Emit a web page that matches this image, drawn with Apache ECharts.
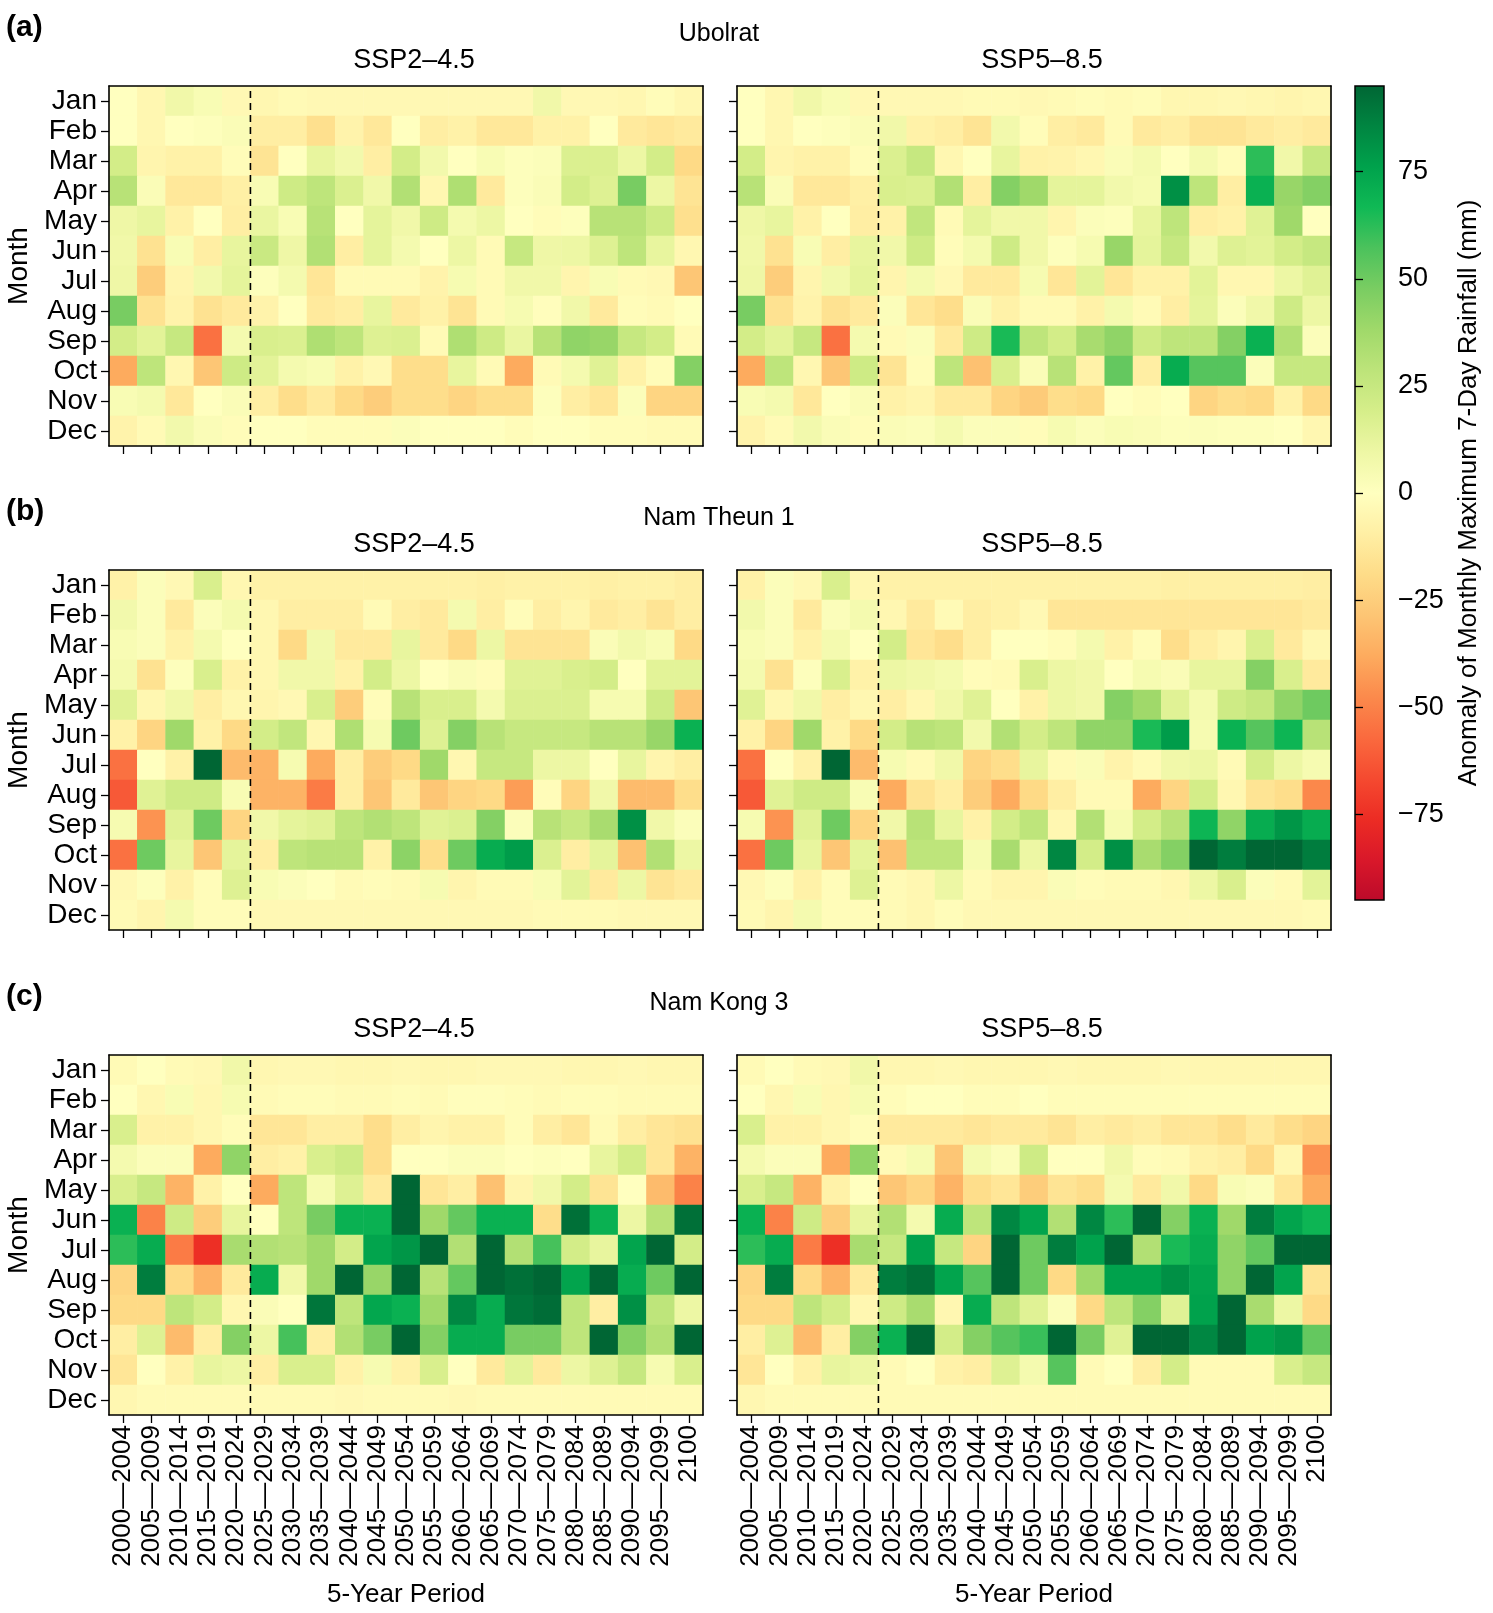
<!DOCTYPE html>
<html>
<head>
<meta charset="utf-8">
<title>Monthly maximum 7-day rainfall anomaly</title>
<script src="https://cdn.jsdelivr.net/npm/echarts@6/dist/echarts.min.js"></script>
<style>
  html, body { margin: 0; padding: 0; background: #fff; }
  #main { width: 1493px; height: 1613px; }
</style>
</head>
<body>
<div id="main"></div>
<script>
// ---- data (mm) ----
const months = ['Jan', 'Feb', 'Mar', 'Apr', 'May', 'Jun', 'Jul', 'Aug', 'Sep', 'Oct', 'Nov', 'Dec'];
const periods = ['2000—2004', '2005—2009', '2010—2014', '2015—2019', '2020—2024', '2025—2029', '2030—2034',
  '2035—2039', '2040—2044', '2045—2049', '2050—2054', '2055—2059', '2060—2064', '2065—2069', '2070—2074',
  '2075—2079', '2080—2084', '2085—2089', '2090—2094', '2095—2099', '2100'];
const scenarios = ['SSP2–4.5', 'SSP5–8.5'];
const sites = ['Ubolrat', 'Nam Theun 1', 'Nam Kong 3'];
const panelTags = ['(a)', '(b)', '(c)'];
const colorTicks = [-75, -50, -25, 0, 25, 50, 75];
const colorMin = -95, colorMax = 95;

// historical periods 2000-2024 (same in both scenarios), one row per month
const ubolratHist = [
  [0, -5, 8, 4, -4], [0, -5, 0, 1, 3], [20, -6, -8, -8, -2], [30, 3, -13, -13, -9],
  [9, 12, -8, 0, -10], [8, -16, 4, -10, 12], [9, -25, -6, 7, 13], [48, -16, -7, -16, -12],
  [20, 14, 25, -55, 6], [-38, 28, -5, -28, 22], [4, 6, -13, 0, 3], [-7, -3, 7, 3, -2]
];
const ubolratSsp245 = [
  [-5, -3, -4, -4, -4, -4, -4, -4, -4, -4, 8, -4, -4, -5, -2, -5],
  [-10, -10, -17, -7, -13, 0, -10, -8, -13, -13, -8, -8, 0, -12, -14, -12],
  [-15, 0, 12, 7, -10, 20, 7, 0, 4, 1, 2, 17, 17, 10, 20, -20],
  [4, 22, 28, 17, 8, 32, -5, 33, -12, 1, 3, 20, 16, 48, 10, -15],
  [11, 4, 30, 0, 13, 8, 22, 6, 10, 0, -2, 1, 30, 30, 22, -17],
  [24, 9, 32, -10, 13, 6, 0, 10, -3, 25, 9, 10, 16, 28, 12, -5],
  [1, 6, -14, -3, -3, -3, -7, 5, -3, 8, 8, -6, 4, -3, -4, -28],
  [-7, 0, -12, -10, 12, -12, -8, -15, -3, 5, -1, 8, -12, -2, -3, 0],
  [18, 17, 33, 28, 16, 17, -3, 33, 22, 11, 30, 42, 40, 25, 20, -3],
  [14, 6, 4, -8, -4, -18, -18, 12, -3, -38, -3, 6, 15, -8, -2, 45],
  [-10, -18, -12, -20, -25, -18, -18, -22, -18, -18, 1, -10, -14, 2, -22, -22],
  [0, 0, -2, -2, -2, 2, 0, 0, 0, -2, 0, 0, -2, -2, -3, -3]
];
const ubolratSsp585 = [
  [-4, -4, -4, -3, -3, -4, -3, -2, -3, -2, -5, -5, -4, -5, -6, -5],
  [8, -8, -10, -15, 7, -2, -10, -12, -3, -12, -10, -15, -15, -12, -10, -12],
  [17, 25, -5, 0, 12, -8, -7, -5, 3, 6, 0, 6, -2, 62, 8, 25],
  [18, 17, 32, -10, 45, 38, 13, 13, 7, 5, 82, 28, -10, 70, 40, 45],
  [-8, 27, -3, 13, 8, 8, -6, 2, 1, 12, 28, -10, -8, 15, 38, 0],
  [8, 22, -2, 6, 22, 8, 1, 5, 40, 13, 25, 7, 16, 14, 20, 25],
  [-6, 6, -4, -12, -12, 5, -14, 14, -14, -8, -8, 14, -5, -5, 10, 15],
  [2, -14, -18, 3, -8, -3, -3, -8, 6, -3, -10, 13, 2, 8, 22, 10],
  [-3, 2, -12, 22, 65, 28, 20, 35, 42, 22, 28, 28, 45, 70, 32, 2],
  [-15, -2, 28, -30, 18, 3, 30, -8, 52, -10, 72, 55, 55, 2, 25, 25],
  [-8, -6, -12, -12, -22, -26, -18, -20, 0, -2, 0, -22, -18, -20, -8, -20],
  [3, 2, 6, 2, 2, -2, 5, 2, 4, 3, 1, 2, 1, 1, 0, -5]
];

const namTheunHist = [
  [-8, 2, -4, 18, -5], [7, 2, -12, 2, 6], [4, 2, -8, 6, 0], [6, -16, 1, 18, -8],
  [15, -5, 8, -10, -5], [-8, -22, 38, -8, -20], [-55, 0, -8, 95, -32], [-62, 15, 22, 22, 4],
  [5, -45, 15, 50, -22], [-55, 50, 12, -28, 13], [-4, 1, -8, -2, 16], [-3, -6, 6, -2, -2]
];
const namTheunSsp245 = [
  [-8, -8, -8, -8, -8, -8, -8, -8, -9, -8, -8, -8, -9, -8, -8, -10],
  [-5, -10, -10, -10, -3, -10, -12, 6, -10, -2, -10, -6, -12, -10, -15, -10],
  [-5, -20, 7, -12, -12, 12, -12, -20, 10, -15, -15, -15, 3, 7, 4, -20],
  [-5, 8, 8, -8, 20, 10, 0, 3, -2, 15, 15, 18, 20, 0, 14, 14],
  [-6, -4, 18, -25, -2, 30, 18, 18, 6, 17, 17, 17, 5, 5, 22, -28],
  [20, 27, -5, 33, 5, 50, 16, 45, 30, 25, 25, 25, 30, 30, 40, 70],
  [-35, 5, -38, -10, -25, -20, 38, -5, 25, 25, 10, 10, 0, 12, -6, -10],
  [-35, -35, -52, -10, -28, -12, -28, -22, -20, -42, -2, -22, 8, -32, -32, -18],
  [8, 13, 15, 28, 32, 28, 15, 17, 45, 2, 30, 25, 35, 82, 8, 2],
  [-10, 28, 30, 30, -8, 43, -18, 50, 72, 78, 17, -10, 13, -30, 32, 10],
  [4, 2, 0, -3, -2, -3, 5, -6, -3, -3, 4, 14, -12, 10, -15, -12],
  [-4, -4, -4, -4, -4, -4, -4, -4, -4, -4, -3, -3, -3, -4, -4, -4]
];
const namTheunSsp585 = [
  [-8, -8, -8, -8, -8, -8, -8, -8, -8, -8, -9, -9, -9, -9, -9, -10],
  [-5, -12, -3, -10, -8, -4, -14, -14, -14, -14, -14, -14, -14, -14, -14, -12],
  [20, -14, -18, -10, 0, 0, -2, 6, -8, -2, -18, -10, -6, 18, -12, -5],
  [10, 8, 6, -2, -3, 18, 10, 8, 0, 5, 3, 12, 12, 45, 18, -12],
  [-10, -5, 8, 15, 0, -8, 10, 8, 45, 38, 15, 6, 22, 26, 42, 50],
  [20, 30, 28, 7, 32, 20, 28, 42, 42, 65, 78, 5, 70, 55, 68, 30],
  [5, -3, 8, -22, -18, 12, -3, 3, -7, -3, 8, 10, -3, 20, 10, 5],
  [-38, -15, -10, -25, -38, -20, -10, -3, -3, -38, -22, 20, -5, -15, -18, -48],
  [8, 30, 12, -8, 20, 28, -5, 32, 5, 20, 30, 68, 42, 72, 80, 72],
  [-30, 28, 28, 5, 35, 10, 85, 20, 82, 35, 45, 95, 88, 95, 95, 88],
  [-3, -5, 10, -3, -6, -6, 3, -2, -3, -3, -5, 10, 18, 2, -3, 14],
  [-3, -5, -2, -4, -4, -4, -4, -4, -4, -4, -4, -4, -4, -4, -4, -3]
];

const namKongHist = [
  [-3, 0, -3, -4, 8], [0, -5, 4, -5, 5], [18, -8, -8, -5, -2], [6, 2, 2, -38, 42],
  [18, 25, -35, -8, 0], [70, -50, 22, -25, 12], [62, 72, -52, -75, 35], [-22, 88, -20, -35, -12],
  [-20, -20, 28, 20, -5], [-10, 16, -32, -10, 45], [-14, 0, -8, 12, 10], [-5, -3, -3, -3, -3]
];
const namKongSsp245 = [
  [-5, -4, -4, -5, -5, -4, -5, -5, -4, -4, -4, -5, -5, -4, -5, -5],
  [-3, -2, -2, -3, -3, -2, -3, -1, -1, -2, -3, -2, -2, -3, -3, -3],
  [-14, -14, -10, -10, -18, -10, -6, -8, -8, -2, -10, -14, -3, -10, -14, -16],
  [-10, -8, 18, 22, -18, 0, 0, 2, 2, 0, 1, 0, 12, 20, -14, -35],
  [-38, 28, 5, 16, -12, 95, -14, -10, -30, -6, 8, 20, -15, 0, -32, -50],
  [0, 28, 48, 70, 70, 95, 38, 52, 70, 70, -18, 92, 70, 10, 30, 92],
  [32, 30, 38, 20, 75, 80, 95, 32, 95, 32, 58, 20, 12, 75, 95, 20],
  [72, 8, 38, 95, 40, 95, 30, 52, 95, 92, 95, 75, 95, 72, 50, 95],
  [3, 0, 90, 28, 74, 70, 38, 85, 72, 90, 93, 28, -10, 82, 28, 10],
  [10, 58, -10, 32, 48, 95, 45, 72, 72, 48, 48, 28, 95, 45, 32, 95],
  [-10, 18, 18, -8, 5, -8, 18, 0, -12, 14, -12, 10, 16, 25, 5, 18],
  [-3, -3, -3, -4, -3, -3, -3, -4, -3, -3, -3, -3, -3, -3, -3, -3]
];
const namKongSsp585 = [
  [-5, -5, -4, -5, -5, -5, -4, -5, -5, -5, -4, -5, -5, -5, -5, -5],
  [-2, 0, 0, -2, -2, 0, -2, -2, -2, -2, -2, -2, -2, -2, -2, -2],
  [-12, -12, -12, -14, -12, -12, -15, -10, -12, -10, -14, -14, -18, -12, -18, -22],
  [-3, 5, -28, 6, 2, 22, 0, 0, 8, -2, -3, -8, -10, -20, -5, -45],
  [-28, -22, -35, -18, -14, -25, -15, -18, 6, -12, 8, -20, 4, 2, -14, -38],
  [32, 6, 72, 28, 85, 75, 32, 85, 62, 95, 45, 70, 38, 88, 75, 68],
  [25, 76, 25, -22, 95, 50, 88, 76, 95, 32, 65, 72, 42, 52, 95, 95],
  [88, 92, 75, 55, 95, 50, -20, 38, 76, 76, 82, 75, 42, 95, 75, -15],
  [22, 35, -5, 72, 28, 15, 2, -20, 28, 45, 15, 76, 95, 35, 10, -20],
  [70, 95, 20, 45, 55, 60, 95, 48, 15, 95, 95, 85, 95, 76, 80, 52],
  [-3, 0, -8, -10, 16, 6, 55, -3, 0, -10, 20, -3, -3, -3, 18, 25],
  [-3, -3, -3, -3, -3, -3, -3, -3, -3, -3, -3, -3, -3, -3, -3, -3]
];

// RdYlGn-like ramp, -95 -> 95, one colour every 9.5 mm
const rampColors = ['#bc0a2a', '#d9182a', '#ec2c24', '#f54a30', '#fa6a3e', '#fb8a4c', '#fdab5e',
  '#fdc574', '#fedc88', '#ffefa4', '#ffffbf', '#eef7a5', '#d6ee8a', '#bde47a', '#a0d96a',
  '#7acd62', '#4cc25c', '#10b955', '#00a24c', '#008541', '#006634'];

// ---- layout ----
const font = 'Liberation Sans, Arial, Helvetica, sans-serif';
const gridLefts = [109, 737];
const gridTops = [86, 570, 1055];
const gridW = 594, gridH = 360;
const bar = { x: 1355, y: 86, w: 29, h: 814 };

const panels = [
  { site: 0, scen: 0, hist: ubolratHist, fut: ubolratSsp245 },
  { site: 0, scen: 1, hist: ubolratHist, fut: ubolratSsp585 },
  { site: 1, scen: 0, hist: namTheunHist, fut: namTheunSsp245 },
  { site: 1, scen: 1, hist: namTheunHist, fut: namTheunSsp585 },
  { site: 2, scen: 0, hist: namKongHist, fut: namKongSsp245 },
  { site: 2, scen: 1, hist: namKongHist, fut: namKongSsp585 }
];

// turn month rows into heatmap cells [periodIndex, monthIndex, value]
function buildCells(hist, fut) {
  const out = [];
  months.forEach((m, r) => {
    hist[r].concat(fut[r]).forEach((v, c) => out.push([c, r, v]));
  });
  return out;
}

const blackLine = { show: true, lineStyle: { color: '#000', width: 1.6 } };
const grids = [], xAxes = [], yAxes = [], series = [], heatIdx = [], texts = [];

panels.forEach((p, i) => {
  const left = gridLefts[p.scen];
  const top = gridTops[p.site];
  const bottomRow = p.site === 2;
  const histCount = p.hist[0].length;

  grids.push({ left: left, top: top, width: gridW, height: gridH });

  // category axes carrying the cells
  xAxes.push({
    type: 'category', gridIndex: i, data: periods, position: 'bottom', z: 5,
    axisLine: blackLine,
    axisTick: { show: true, alignWithLabel: true, interval: 0, length: 8, lineStyle: { color: '#000', width: 1.3 } },
    axisLabel: { show: bottomRow, interval: 0, rotate: 90, fontSize: 26, color: '#000', fontFamily: font, margin: 10 },
    splitLine: { show: false },
    name: bottomRow ? '5-Year Period' : '', nameLocation: 'middle', nameGap: 167,
    nameTextStyle: { fontSize: 26, color: '#000', fontFamily: font }
  });
  yAxes.push({
    type: 'category', gridIndex: i, data: months, inverse: true, z: 5,
    axisLine: blackLine,
    axisTick: { show: true, alignWithLabel: true, interval: 0, length: 8, lineStyle: { color: '#000', width: 1.3 } },
    axisLabel: { show: p.scen === 0, interval: 0, fontSize: 28, color: '#000', fontFamily: font, margin: 12 },
    splitLine: { show: false },
    name: p.scen === 0 ? 'Month' : '', nameLocation: 'middle', nameGap: 76,
    nameTextStyle: { fontSize: 28, color: '#000', fontFamily: font }
  });
  // hidden value axes: frame top/right and hold the dashed history/future divider
  xAxes.push({
    type: 'value', gridIndex: i, min: 0, max: periods.length, position: 'top', z: 5,
    axisLine: blackLine, axisTick: { show: false }, axisLabel: { show: false }, splitLine: { show: false }
  });
  yAxes.push({
    type: 'value', gridIndex: i, min: 0, max: months.length, position: 'right', z: 5,
    axisLine: blackLine, axisTick: { show: false }, axisLabel: { show: false }, splitLine: { show: false }
  });

  heatIdx.push(series.length);
  series.push({
    type: 'heatmap', xAxisIndex: i * 2, yAxisIndex: i * 2,
    data: buildCells(p.hist, p.fut),
    itemStyle: { borderWidth: 0 },
    emphasis: { disabled: true },
    progressive: 0
  });
  series.push({
    type: 'line', xAxisIndex: i * 2 + 1, yAxisIndex: i * 2 + 1,
    data: [[histCount, 0], [histCount, months.length]],
    symbol: 'none', silent: true, z: 4,
    lineStyle: { color: '#000', width: 1.6, type: [7, 5] }
  });

  // scenario title above each panel
  texts.push({
    type: 'text', x: left + gridW / 2 + 8, y: top - 25,
    style: { text: scenarios[p.scen], font: '27px ' + font, fill: '#000', textAlign: 'center', textVerticalAlign: 'middle' }
  });
});

// site titles and panel tags
sites.forEach((s, k) => {
  const top = gridTops[k];
  texts.push({
    type: 'text', x: 6, y: top - 58,
    style: { text: panelTags[k], font: 'bold 30px ' + font, fill: '#000', textAlign: 'left', textVerticalAlign: 'middle' }
  });
  texts.push({
    type: 'text', x: 719, y: top - 52,
    style: { text: s, font: '25px ' + font, fill: '#000', textAlign: 'center', textVerticalAlign: 'middle' }
  });
});

// colour bar: gradient box + value axis for the ticks
grids.push({ left: bar.x, top: bar.y, width: bar.w, height: bar.h });
xAxes.push({ type: 'value', gridIndex: 6, show: false, min: 0, max: 1 });
yAxes.push({
  type: 'value', gridIndex: 6, min: colorMin, max: colorMax, position: 'right', z: 5,
  axisLine: { show: false },
  axisTick: { show: true, customValues: colorTicks, length: 8, lineStyle: { color: '#000', width: 1.3 } },
  axisLabel: {
    show: true, customValues: colorTicks, fontSize: 27, color: '#000', fontFamily: font, margin: 14,
    formatter: v => (v < 0 ? '\u2212' + Math.abs(v) : String(v))
  },
  splitLine: { show: false },
  name: 'Anomaly of Monthly Maximum 7-Day Rainfall (mm)', nameLocation: 'middle', nameGap: 72,
  nameTextStyle: { fontSize: 26, color: '#000', fontFamily: font }
});
const stops = rampColors.map((c, i) => ({ offset: i / (rampColors.length - 1), color: c }));
texts.push({
  type: 'rect', z: 1,
  shape: { x: bar.x, y: bar.y, width: bar.w, height: bar.h },
  style: { fill: new echarts.graphic.LinearGradient(0, 1, 0, 0, stops), stroke: '#000', lineWidth: 1.5 }
});

const chart = echarts.init(document.getElementById('main'));
chart.setOption({
  backgroundColor: '#fff',
  animation: false,
  grid: grids,
  xAxis: xAxes,
  yAxis: yAxes,
  visualMap: {
    type: 'continuous', show: false, min: colorMin, max: colorMax,
    seriesIndex: heatIdx,
    inRange: { color: rampColors }
  },
  graphic: texts,
  series: series
});
</script>
</body>
</html>
